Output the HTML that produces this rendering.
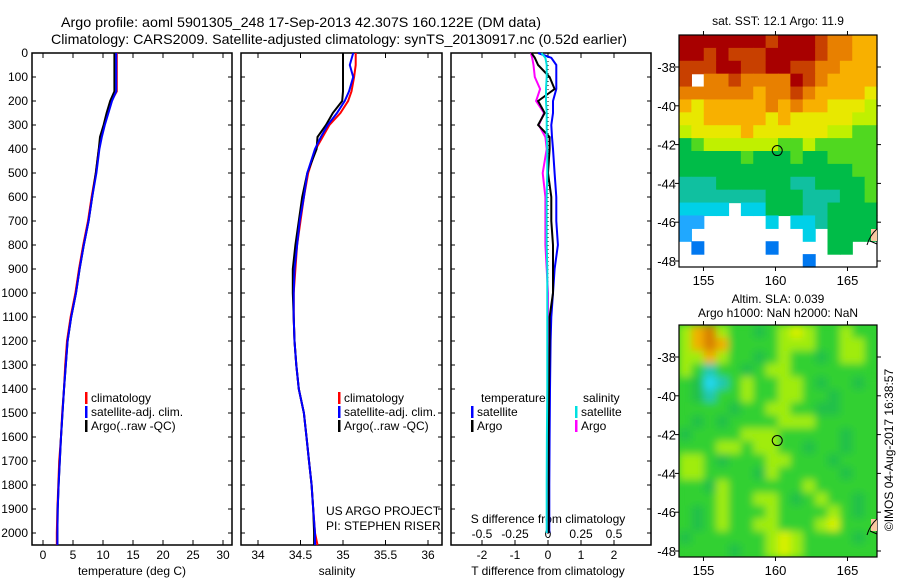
<!DOCTYPE html>
<html><head><meta charset="utf-8"><style>
html,body{margin:0;padding:0;background:#fff;}
svg{display:block;font-family:"Liberation Sans",sans-serif;}
</style></head><body>
<svg id="chart" width="900" height="580" viewBox="0 0 900 580">
<defs>
<filter id="blur" x="-5%" y="-5%" width="110%" height="110%"><feGaussianBlur stdDeviation="4"/></filter>
<clipPath id="clipSla"><rect x="679" y="325" width="198" height="232"/></clipPath>
</defs>
<text x="301" y="27" font-size="14" text-anchor="middle" textLength="480" lengthAdjust="spacingAndGlyphs">Argo profile: aoml 5901305_248 17-Sep-2013 42.307S 160.122E (DM data)</text>
<text x="339" y="44" font-size="14" text-anchor="middle" textLength="576" lengthAdjust="spacingAndGlyphs">Climatology: CARS2009. Satellite-adjusted climatology: synTS_20130917.nc (0.52d earlier)</text>
<g id="g"></g>
</svg>
<script>
// ---- data ----
const tDepth=[0,160,200,250,300,350,400,500,600,700,800,900,1000,1100,1200,1300,1400,1500,1600,1700,1800,1900,2000,2050];
const tClim=[12.3,12.3,11.4,10.8,10.2,9.7,9.3,8.8,8.1,7.5,6.7,6.0,5.4,4.6,4.0,3.7,3.5,3.2,3.0,2.7,2.55,2.4,2.3,2.3];
const tSat=[12.2,12.2,11.5,10.9,10.3,9.8,9.4,8.9,8.2,7.6,6.8,6.1,5.5,4.7,4.1,3.8,3.5,3.25,3.0,2.8,2.6,2.45,2.4,2.4];
const tArgo=[11.9,11.9,11.2,10.6,10.1,9.5,9.3,8.8,8.2,7.6,6.8,6.1,5.5,4.7,4.1,3.8,3.5,3.25,3.0,2.8,2.6,2.45,2.4,2.4];
const sDepth=[0,50,100,160,200,250,300,350,400,500,600,700,800,900,1000,1100,1200,1300,1400,1500,1600,1700,1800,1900,2000,2050];
const sClim=[35.15,35.15,35.13,35.1,35.06,34.97,34.84,34.76,34.68,34.59,34.54,34.5,34.46,34.44,34.42,34.42,34.43,34.45,34.48,34.54,34.57,34.6,34.63,34.65,34.67,34.7];
const sSat=[35.12,35.08,35.12,35.07,35.02,34.93,34.82,34.74,34.67,34.58,34.54,34.49,34.46,34.43,34.42,34.42,34.43,34.45,34.48,34.54,34.57,34.6,34.63,34.65,34.67,34.67];
const sArgo=[35.0,35.0,35.0,35.0,34.99,34.88,34.8,34.7,34.69,34.58,34.52,34.48,34.44,34.41,34.41,34.42,34.43,34.45,34.48,34.54,34.57,34.6,34.63,34.65,34.66,34.66];
const dDepth=[0,20,50,100,150,200,250,300,350,400,500,600,700,800,900,1000,1100,1200,1400,1600,1800,2000];
const dTsat=[-0.3,0.1,0.25,0.25,0.25,0.15,0.15,0.1,0.12,0.15,0.2,0.25,0.25,0.3,0.2,0.15,0.1,0.08,0.06,0.05,0.04,0.04];
const dTargo=[-0.5,-0.4,-0.3,0.05,0.2,-0.3,-0.1,-0.3,0.05,0.05,0.0,0.1,0.1,0.15,0.15,0.15,0.05,0.05,0.03,0.02,0.02,0.02];
const dSsat=[-0.05,-0.02,-0.01,-0.01,-0.015,-0.015,-0.01,-0.01,-0.01,-0.005,-0.005,-0.01,-0.01,-0.01,-0.005,-0.005,-0.005,-0.005,-0.005,-0.008,-0.01,-0.01];
const dSargo=[-0.13,-0.12,-0.11,-0.1,-0.06,-0.09,-0.03,-0.07,-0.02,-0.01,-0.04,-0.02,-0.02,-0.02,-0.01,0,0,0,0,0,0,0];
const depthTicks=[0,100,200,300,400,500,600,700,800,900,1000,1100,1200,1300,1400,1500,1600,1700,1800,1900,2000];
const tTicks=[0,5,10,15,20,25,30];
const sTicks=[34,34.5,35,35.5,36];
const dTTicks=[-2,-1,0,1,2];
const dSTicks=[-0.5,-0.25,0,0.25,0.5];
const sstRows=["aaaaaaa9aaa98877","aa9a999aaaa98877","999aa99aa9988777","9.8898888a987777","8888887889877776","7677777878776665","6677777676666655","5666676666665544","3455555544544444","3333343334334444","3333333333333344","2223333332233334","2222222333222334","1111.11333223333","00.....1.1123333","0.........1.3333",".B.....B....33..","..........B....."];
const slaRows=["yoOyggdgyYyggygg","yoOoggggyyyggyyg","yyoyggdgyggdgyyg","ygtggdgyygggggg","gdctgyggyygdggdg","gdtggyggyyggdggg","ggggdggyyggddggg","gdgdggggyyyggggg","dggggyyygggggdgg","gggyygyyggdggdgg","yygdgggyygggdggg","yyggggdygggggdgg","ggdyggggggyggggg","gggyggyygdgyggdg","gdgygggyggggygdg","gdgyggyygggyYggg","dggggggyYyggggdg","ggggdggyYygggggg"];
const mapLonTicks=[155,160,165];
const mapLatTicks=[-38,-40,-42,-44,-46,-48];
const argoLon=160.122, argoLat=-42.307;

const NS="http://www.w3.org/2000/svg";
const G=document.getElementById('g');
function mk(tag,at,parent){const e=document.createElementNS(NS,tag);for(const k in at)e.setAttribute(k,at[k]);(parent||G).appendChild(e);return e;}
const yD=d=>53+d*0.24;
const xT=v=>43+v*6;
const xS=v=>258+(v-34)*85;
const xDT=v=>548+v*33;
const xDS=v=>548+v*132;
const panels=[[32,232],[241,442],[451,651]];
const TOP=53,BOT=545;

panels.forEach((p,i)=>{
  const r=mk('rect',{x:p[0],y:TOP,width:p[1]-p[0],height:BOT-TOP,fill:'none',stroke:'#000','stroke-width':1.5});
  
  
  depthTicks.forEach(d=>{
    const y=yD(d);
    mk('line',{x1:p[0],x2:p[0]+4,y1:y,y2:y,stroke:'#000'});
    mk('line',{x1:p[1]-4,x2:p[1],y1:y,y2:y,stroke:'#000'});
  });
});
depthTicks.forEach(d=>{
  const t=mk('text',{x:28,y:yD(d)+4,'font-size':12,'text-anchor':'end'});
  t.textContent=d;
  
  
});
function xticks(ticks,fx,labY,name){
  ticks.forEach(v=>{
    const x=fx(v);
    mk('line',{x1:x,x2:x,y1:TOP,y2:TOP+5,stroke:'#000'});
    mk('line',{x1:x,x2:x,y1:BOT-5,y2:BOT,stroke:'#000'});
    const t=mk('text',{x:x,y:labY,'font-size':12,'text-anchor':'middle'});
    t.textContent=v;
    
    
  });
}
xticks(tTicks,xT,559,'temperature-tick-label');
xticks(sTicks,xS,559,'salinity-tick-label');
xticks(dTTicks,xDT,559,'t-diff-tick-label');
dSTicks.forEach(v=>{
  const t=mk('text',{x:xDS(v),y:538,'font-size':12,'text-anchor':'middle'});
  t.textContent=v;
  
  
});
function label(x,y,s,name,extra){const t=mk('text',Object.assign({x:x,y:y,'font-size':12,'text-anchor':'middle'},extra||{}));t.textContent=s;return t;}
label(132,575,'temperature (deg C)','x-axis-title-temperature');
label(337,575,'salinity','x-axis-title-salinity');
label(548,575,'T difference from climatology','x-axis-title-t-diff');
label(548,523,'S difference from climatology','x-axis-title-s-diff');
label(326,515,'US ARGO PROJECT','project-label',{'text-anchor':'start'});
label(326,530,'PI: STEPHEN RISER','pi-label',{'text-anchor':'start'});
mk('line',{x1:548,x2:548,y1:TOP,y2:BOT,stroke:'#000','stroke-dasharray':'1,3'});

function series(depths,vals,fx,col,name,w){
  const pts=depths.map((d,i)=>fx(vals[i]).toFixed(1)+','+yD(d).toFixed(1)).join(' ');
  const l=mk('polyline',{points:pts,fill:'none',stroke:col,'stroke-width':w||2,'stroke-linejoin':'miter'});
  
  
}
series(tDepth,tClim,xT,'#ff0000','temp-climatology-line');
series(tDepth,tArgo,xT,'#000000','temp-argo-line');
series(tDepth,tSat,xT,'#0000ff','temp-satellite-line');
series(sDepth,sClim,xS,'#ff0000','sal-climatology-line');
series(sDepth,sArgo,xS,'#000000','sal-argo-line');
series(sDepth,sSat,xS,'#0000ff','sal-satellite-line');
series(dDepth,dSargo,xDS,'#ff00ff','sdiff-argo-line');
series(dDepth,dTsat,xDT,'#0000ff','tdiff-satellite-line');
series(dDepth,dTargo,xDT,'#000000','tdiff-argo-line');
series(dDepth,dSsat,xDS,'#00e0e0','sdiff-satellite-line');

function legend(x,y,col,s,name){
  mk('rect',{x:x,y:y-10,width:2.5,height:12,fill:col});
  const t=mk('text',{x:x+6,y:y,'font-size':12});
  t.textContent=s;
  
  
}
[85,338].forEach(x=>{
  legend(x,402,'#ff0000','climatology','legend-climatology');
  legend(x,416,'#0000ff','satellite-adj. clim.','legend-satellite-adj');
  legend(x,430,'#000000','Argo(..raw -QC)','legend-argo');
});
label(481,402,'temperature','legend-title-temperature',{'text-anchor':'start'});
label(583,402,'salinity','legend-title-salinity',{'text-anchor':'start'});
legend(471,416,'#0000ff','satellite','legend-t-satellite');
legend(471,430,'#000000','Argo','legend-t-argo');
legend(575,416,'#00e0e0','satellite','legend-s-satellite');
legend(575,430,'#ff00ff','Argo','legend-s-argo');

// ---- maps ----
const sstCol={a:'#a80000',9:'#c84000',8:'#e88000',7:'#f8b000',6:'#e8e800',5:'#c0f000',4:'#50d820',3:'#00bc48',2:'#10c0a0',1:'#00d0e8',0:'#20a8ff',B:'#0078f0'};
const slaCol={g:'#30d030',d:'#20c048',y:'#a0ec10',Y:'#d8f000',o:'#f0b000',O:'#d88000',t:'#20c8b0',c:'#20d8f0'};
function drawMap(top,rows,cols,name,lab1,lab2,smooth){
  const L=679,R=877,T=top,B=top+232;
  const lonX=lo=>L+(lo-153.3)*14.4;
  const latY=la=>T+32+(-38-la)*19.4;
  const nR=rows.length,nC=rows[0].length,cw=(R-L)/nC,ch=(B-T)/nR;
  const outer=mk('g',smooth?{'clip-path':'url(#clipSla)'}:{});
  
  
  if(smooth) mk('rect',{x:L,y:T,width:R-L,height:B-T,fill:'#30d030'},outer);
  const g=mk('g',smooth?{filter:'url(#blur)'}:{},outer);
  rows.forEach((row,r)=>{
    for(let c=0;c<nC;c++){
      const k=row[c];
      if(cols[k]) mk('rect',{x:(L+c*cw).toFixed(2),y:(T+r*ch).toFixed(2),width:(cw+0.6).toFixed(2),height:(ch+0.6).toFixed(2),fill:cols[k]},g);
    }
  });
  mk('rect',{x:L,y:T,width:R-L,height:B-T,fill:'none',stroke:'#000','stroke-width':1.2});
  mapLonTicks.forEach(lo=>{
    const x=lonX(lo);
    mk('line',{x1:x,x2:x,y1:T-4,y2:T,stroke:'#000'});
    mk('line',{x1:x,x2:x,y1:B,y2:B+4,stroke:'#000'});
    const t=mk('text',{x:x,y:B+18,'font-size':13,'text-anchor':'middle'});
    t.textContent=lo;
    
    
  });
  mapLatTicks.forEach(la=>{
    const y=latY(la);
    mk('line',{x1:L-4,x2:L,y1:y,y2:y,stroke:'#000'});
    mk('line',{x1:R,x2:R+4,y1:y,y2:y,stroke:'#000'});
    const t=mk('text',{x:L-3,y:y+5,'font-size':13,'text-anchor':'end'});
    t.textContent=la;
    
    
  });
  const c=mk('circle',{cx:lonX(argoLon),cy:latY(argoLat),r:5,fill:'none',stroke:'#000','stroke-width':1});
  
  
  mk('rect',{x:R-6,y:B-38,width:6,height:12,fill:'#f8c8a0'});
  mk('path',{d:`M${R-10},${B-22} q3,-10 10,-16 M${R-7},${B-26} l7,3`,fill:'none',stroke:'#000'});
  const t1=mk('text',{x:778,y:lab2?T-22:T-10,'font-size':12,'text-anchor':'middle'});t1.textContent=lab1;
  
  
  if(lab2){const t2=mk('text',{x:778,y:T-8,'font-size':12,'text-anchor':'middle'});t2.textContent=lab2;
  
  }
}
drawMap(35,sstRows,sstCol,'sst-map','sat. SST: 12.1 Argo: 11.9',null,false);
drawMap(325,slaRows,slaCol,'sla-map','Altim. SLA: 0.039','Argo h1000: NaN h2000: NaN',true);
const st=mk('text',{x:0,y:0,'font-size':12,'text-anchor':'middle',transform:'translate(893,450) rotate(-90)'});
st.textContent='©IMOS 04-Aug-2017 16:38:57';


</script>
</body></html>
